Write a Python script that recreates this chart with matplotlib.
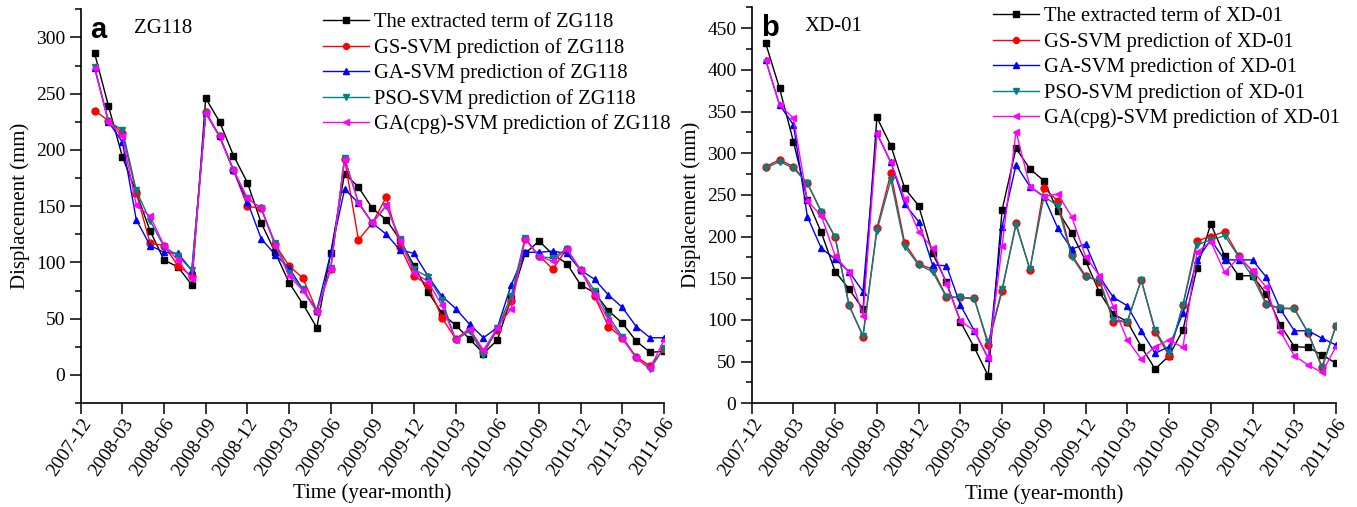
import matplotlib
matplotlib.use('Agg')
import matplotlib.pyplot as plt
from matplotlib.ticker import MultipleLocator

# months 2008-01 .. 2011-06 (index 1..42, 0 = 2007-12)
months = list(range(1, 43))
tick_labels = ['2007-12', '2008-03', '2008-06', '2008-09', '2008-12', '2009-03',
               '2009-06', '2009-09', '2009-12', '2010-03', '2010-06', '2010-09',
               '2010-12', '2011-03', '2011-06']

# panel a: ZG118
zg_extracted = [286, 239, 194, 162, 128, 102, 96, 80, 246, 225, 195, 171, 135, 109, 82, 63, 42, 108, 179, 167,
                148, 138, 120, 97, 74, 55, 44, 32, 19, 31, 68, 108, 119, 107, 99, 80, 73, 57, 46, 30, 20, 21]
zg_gs = [235, 226, 215, 162, 117, 115, 97, 88, 234, 212, 182, 150, 148, 116, 97, 86, 57, 94, 192, 120,
         135, 158, 114, 88, 80, 51, 32, 41, 20, 40, 66, 121, 106, 94, 112, 93, 70, 43, 33, 16, 8, 23]
zg_ga = [273, 225, 207, 138, 115, 109, 108, 93, 233, 212, 182, 154, 121, 107, 95, 76, 57, 108, 165, 153,
         135, 125, 111, 108, 88, 70, 59, 45, 33, 42, 80, 109, 109, 110, 108, 93, 85, 71, 60, 43, 33, 33]
zg_pso = [274, 225, 218, 164, 137, 114, 106, 93, 233, 212, 182, 157, 148, 117, 91, 76, 57, 95, 193, 153,
          135, 150, 121, 94, 87, 67, 31, 39, 18, 42, 70, 122, 105, 104, 112, 93, 75, 52, 34, 15, 5, 24]
zg_cpg = [273, 225, 212, 151, 141, 115, 102, 85, 233, 212, 182, 157, 148, 115, 88, 75, 56, 94, 192, 153,
          135, 151, 119, 91, 83, 62, 31, 41, 22, 42, 59, 121, 105, 101, 112, 93, 71, 49, 32, 15, 6, 31]

# panel b: XD-01
xd_extracted = [432, 378, 314, 244, 205, 158, 137, 113, 343, 309, 258, 237, 180, 145, 98, 67, 33, 232, 306, 281,
                267, 231, 204, 171, 133, 107, 98, 68, 41, 57, 88, 162, 215, 177, 153, 153, 131, 94, 68, 67, 58, 48]
xd_gs = [284, 292, 284, 264, 230, 199, 118, 80, 210, 276, 192, 167, 161, 128, 127, 126, 70, 135, 216, 160,
         258, 243, 178, 153, 146, 98, 98, 148, 86, 57, 118, 195, 200, 206, 177, 158, 119, 114, 114, 84, 44, 93]
xd_ga = [412, 358, 334, 224, 186, 173, 158, 134, 324, 289, 239, 218, 166, 165, 118, 87, 54, 212, 286, 260,
         248, 210, 185, 191, 152, 127, 117, 87, 60, 68, 108, 172, 196, 172, 172, 172, 151, 113, 87, 87, 78, 70]
xd_pso = [282, 290, 282, 264, 230, 199, 117, 81, 207, 268, 188, 166, 158, 127, 127, 125, 73, 137, 214, 161,
          248, 237, 176, 151, 148, 100, 98, 148, 88, 60, 118, 190, 196, 201, 176, 152, 118, 114, 113, 85, 42, 93]
xd_cpg = [412, 358, 342, 243, 225, 177, 157, 105, 324, 289, 245, 206, 186, 143, 99, 87, 54, 189, 326, 260,
          248, 251, 224, 176, 153, 116, 76, 53, 68, 76, 67, 181, 194, 157, 175, 159, 139, 86, 57, 46, 37, 68]

colors = ['black', '#FF0000', '#0000FF', '#008080', '#FF00FF']
markers = ['s', 'o', '^', 'v', '<']
names = ['The extracted term of {}', 'GS-SVM prediction of {}', 'GA-SVM prediction of {}',
         'PSO-SVM prediction of {}', 'GA(cpg)-SVM prediction of {}']

plt.rcParams['font.family'] = ['Liberation Serif', 'DejaVu Serif']

W, H = 1357, 507


def draw_panel(ax, series, site, letter, ylim, legend_xy):
    for vals, c, m, name in zip(series, colors, markers, names):
        ax.plot(months, vals, color=c, marker=m, markersize=5, lw=1, label=name.format(site))
    ax.set_xlim(0, 42)
    ax.set_ylim(*ylim)
    ax.set_xticks(range(0, 43, 3))
    ax.set_xticklabels(tick_labels, rotation=56, ha='right', va='top', rotation_mode='anchor')
    ax.yaxis.set_major_locator(MultipleLocator(50))
    ax.yaxis.set_minor_locator(MultipleLocator(25))
    ax.tick_params(axis='both', which='major', direction='out', length=8, width=1.1, labelsize=14, pad=3)
    ax.tick_params(axis='x', which='major', pad=1)
    ax.tick_params(axis='y', which='minor', direction='out', length=4.5, width=1.1)
    for s in ['left', 'bottom']:
        ax.spines[s].set_linewidth(1.2)
    ax.spines['top'].set_visible(False)
    ax.spines['right'].set_visible(False)
    ax.set_xlabel('Time (year-month)', fontsize=15)
    ax.xaxis.set_label_coords(0.5, -(493 - 403) / 394, transform=ax.transAxes)
    ax.xaxis.label.set_va('center')
    ax.set_ylabel('Displacement (mm)', fontsize=15, labelpad=4)
    ax.text(0.016, 0.983, letter, transform=ax.transAxes, fontsize=21, fontweight='bold',
            family='Liberation Sans', va='top', ha='left')
    ax.text(0.091, 0.975, site, transform=ax.transAxes, fontsize=15, va='top', ha='left')
    ax.legend(loc='upper left', bbox_to_anchor=(legend_xy[0] / W, 1 - legend_xy[1] / H),
              bbox_transform=ax.figure.transFigure, frameon=False, fontsize=14.8,
              handlelength=2.25, handletextpad=0.25, labelspacing=0.27, borderaxespad=0,
              borderpad=0, markerscale=0.85)


fig = plt.figure(figsize=(13.57, 5.07), dpi=100)
ax1 = fig.add_axes([80.7 / W, 1 - 403 / H, (664 - 80.7) / W, (403 - 9.3) / H])
ax2 = fig.add_axes([751.7 / W, 1 - 403.3 / H, (1336 - 751.7) / W, (403.3 - 7.3) / H])

draw_panel(ax1, [zg_extracted, zg_gs, zg_ga, zg_pso, zg_cpg], 'ZG118', 'a', (-25, 325), (323, 13))
draw_panel(ax2, [xd_extracted, xd_gs, xd_ga, xd_pso, xd_cpg], 'XD-01', 'b', (0, 475), (993, 7))

fig.savefig('out.png', dpi=100)
